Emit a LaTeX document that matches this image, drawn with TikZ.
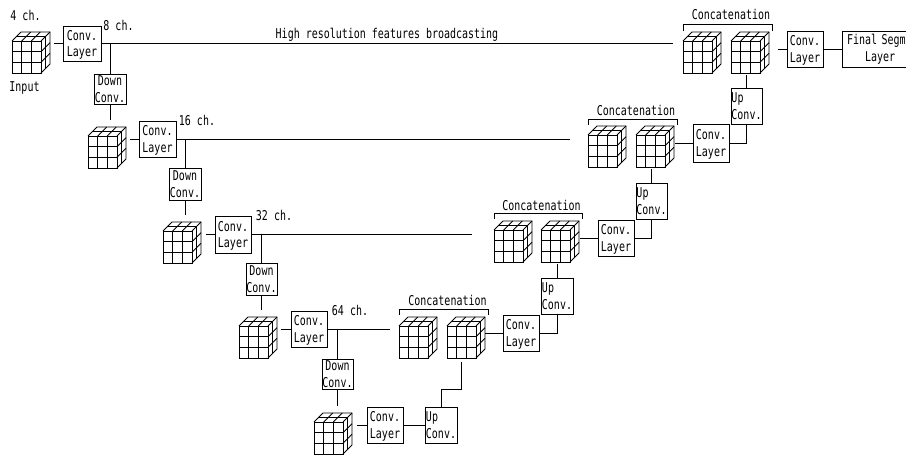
\documentclass[tikz,border=0pt]{standalone}
\usepackage{fontspec}
\newfontfamily\cad[FakeStretch=.74]{DejaVu Sans Mono}
\tikzset{
  ln/.style={line width=.9pt,black},
  every node/.style={font=\fontsize{13.5}{16.5}\selectfont\cad,inner sep=0pt,outer sep=0pt},
  boxnode/.style={draw,ln,align=center,text depth=0pt},
  finalbox/.style={draw,ln,minimum width=90pt,minimum height=36pt,text width=80pt,align=left},
  cubeface/.style={draw,ln,minimum width=29pt,minimum height=32pt},
  lab/.style={anchor=center},
}
\newcommand{\boxat}[6]{\node[boxnode,minimum width={(#4-#2)*1pt},minimum height={(#5-#3)*1pt}] (#1) at ({(#2+#4)/2},{(#3+#5)/2}) {#6};}
\newcommand{\gridcube}[3]{%
  \node[cubeface] (#1) at ({#2+14.5},{#3+16}) {};
  \begin{scope}[shift={(#1.north west)},ln]
    \foreach \i in {1,2}{
      \draw ({\i*29/3},0) -- ({\i*29/3},32);
      \draw (0,{\i*32/3}) -- (29,{\i*32/3});
      \draw (29,{\i*32/3}) -- (38,{\i*32/3-9});
      \draw ({\i*29/3},0) -- ({\i*29/3+9},-9);
    }
    \draw (33.5,-4.5) -- (33.5,27.5);
    \draw (4.5,-4.5) -- (33.5,-4.5);
    \draw (0,0) -- (9,-9) -- (38,-9) -- (38,23) -- (29,32);
    \draw (29,0) -- (38,-9);
  \end{scope}}
\begin{document}
\begin{tikzpicture}[x=1pt,y=-1pt,ln]
\useasboundingbox (0,0) rectangle (906,457);
\clip (0,0) rectangle (906,457);
% cubes
\gridcube{c1}{12}{41}
\gridcube{c2}{88}{136}
\gridcube{c3}{163}{231}
\gridcube{c4}{239}{326}
\gridcube{c5}{314}{422}
\gridcube{a1}{683}{41}
\gridcube{b1}{731}{41}
\gridcube{a2}{588}{135}
\gridcube{b2}{636}{135}
\gridcube{a3}{494}{230}
\gridcube{b3}{541}{230}
\gridcube{a4}{399}{326}
\gridcube{b4}{447}{326}
% boxes
\boxat{conv1}{63}{26}{101}{61}{Conv.\\Layer}
\boxat{conv2}{139}{121}{176}{157}{Conv.\\Layer}
\boxat{conv3}{215}{216}{251}{253}{Conv.\\Layer}
\boxat{conv4}{291}{311}{327}{347}{Conv.\\Layer}
\boxat{conv5}{367}{407}{403}{443}{Conv.\\Layer}
\boxat{down1}{94}{74}{126}{104}{Down\\Conv.}
\boxat{down2}{169}{168}{201}{200}{Down\\Conv.}
\boxat{down3}{246}{263}{277}{295}{Down\\Conv.}
\boxat{down4}{322}{359}{353}{389}{Down\\Conv.}
\boxat{up5}{425}{407}{457}{443}{Up\hspace*{18pt}\\Conv.}
\boxat{up4}{541}{278}{573}{314}{Up\hspace*{18pt}\\Conv.}
\boxat{up3}{636}{183}{667}{219}{Up\hspace*{18pt}\\Conv.}
\boxat{up2}{731}{88}{762}{124}{Up\hspace*{18pt}\\Conv.}
\boxat{conv6}{503}{315}{539}{351}{Conv.\\Layer}
\boxat{conv7}{598}{220}{634}{256}{Conv.\\Layer}
\boxat{conv8}{693}{124}{729}{162}{Conv.\\Layer}
\boxat{conv9}{787}{31}{823}{67}{Conv.\\Layer}
\node[finalbox] (final) at (887,49) {Final Segm\\\hspace*{18pt}Layer};
% down path
\draw[shorten >=13pt] (conv1.west) -- (conv1.west -| c1.east);
\draw[shorten >=13pt] (conv2.west) -- (conv2.west -| c2.east);
\draw[shorten >=14pt] (conv3.west) -- (conv3.west -| c3.east);
\draw[shorten >=13pt] (conv4.west) -- (conv4.west -| c4.east);
\draw[shorten >=14pt] (conv5.west) -- (conv5.west -| c5.east);
\draw (down1.north) -- (down1.north |- conv1.east);
\draw (down2.north) -- (down2.north |- conv2.east);
\draw (down3.north) -- (down3.north |- conv3.east);
\draw (down4.north) -- (down4.north |- conv4.east);
\draw[shorten >=16pt] (down1.south) -- (down1.south |- c2.north);
\draw[shorten >=16pt] (down2.south) -- (down2.south |- c3.north);
\draw[shorten >=16pt] (down3.south) -- (down3.south |- c4.north);
\draw[shorten >=16pt] (down4.south) -- (down4.south |- c5.north);
% skip connections
\draw[shorten >=10pt] (conv1.east) -- (conv1.east -| a1.west);
\draw[shorten >=18pt] (conv2.east) -- (conv2.east -| a2.west);
\draw[shorten >=22pt] (conv3.east) -- (conv3.east -| a3.west);
\draw[shorten >=9pt] (conv4.east) -- (conv4.east -| a4.west);
% up path
\draw (conv5.east) -- (up5.west);
\coordinate (kink) at (461,389);
\draw[shorten >=4pt] (up5.north) |- (kink) -- (kink |- b4.south);
\draw[shorten >=9pt] (conv6.west) -- (conv6.west -| b4.east);
\draw (conv6.east) -| (up4.south);
\draw[shorten >=2pt] (up4.north) -- (up4.north |- b3.south);
\draw[shorten >=10pt] (conv7.west) -- (conv7.west -| b3.east);
\draw (conv7.east) -| (up3.south);
\draw[shorten >=2pt] (up3.north) -- (up3.north |- b2.south);
\draw[shorten >=10pt] (conv8.west) -- (conv8.west -| b2.east);
\draw (conv8.east) -| (up2.south);
\draw[shorten >=2pt] (up2.north) -- (up2.north |- b1.south);
\draw[shorten >=18pt] (conv9.west) -- (conv9.west -| b1.east);
\draw (conv9.east) -- (final.west);
% brackets
\draw (683,31) -- (683,24) -- (772,24) -- (772,31);
\draw (588,125) -- (588,119) -- (677,119) -- (677,125);
\draw (494,219) -- (494,213) -- (582,213) -- (582,219);
\draw (399,315) -- (399,309) -- (488,309) -- (488,315);
% labels
\node[lab] (t1) at (25.5,15) {4 ch.};
\node[lab] (t2) at (118.5,25) {8 ch.};
\node[lab] (t3) at (197,120) {16 ch.};
\node[lab] (t4) at (274,215) {32 ch.};
\node[lab] (t5) at (350,310) {64 ch.};
\node[lab] (tin) at (24.5,88) {Input};
\node[lab] (th) at (387,35) {High resolution features broadcasting};
\node[lab] (k1) at (731,14) {Concatenation};
\node[lab] (k2) at (636,110) {Concatenation};
\node[lab] (k3) at (541.5,205) {Concatenation};
\node[lab] (k4) at (447.5,300) {Concatenation};
\end{tikzpicture}
\end{document}
